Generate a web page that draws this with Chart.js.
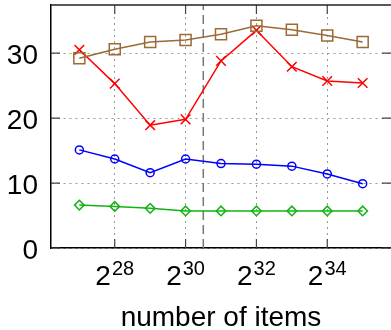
<!DOCTYPE html>
<html>
<head>
<meta charset="utf-8">
<script src="https://cdn.jsdelivr.net/npm/chart.js@4"></script>
<style>
  html, body { margin: 0; padding: 0; background: #fff; }
</style>
</head>
<body>
<canvas id="items-chart" width="391" height="330"></canvas>
<script>
// x values are powers of two, kept as exponents (2^27 .. 2^35)
const exponents = [27, 28, 29, 30, 31, 32, 33, 34, 35];
const brownValues = [29.2, 30.6, 31.7, 32.0, 32.9, 34.2, 33.6, 32.7, 31.7];
const redValues = [30.5, 25.3, 18.9, 19.8, 28.8, 33.5, 27.9, 25.7, 25.4];
const blueValues = [15.1, 13.7, 11.6, 13.7, 13.0, 12.9, 12.6, 11.4, 9.9];
const greenValues = [6.6, 6.4, 6.1, 5.7, 5.7, 5.7, 5.7, 5.7, 5.7];
const xTickExponents = [28, 30, 32, 34];
const yTicks = [0, 10, 20, 30];
const splitExponent = 30.5;
const xTitle = 'number of items';

const FONT = "'Liberation Sans', Arial, sans-serif";

const toPoints = vals => vals.map((v, i) => ({ x: exponents[i], y: v }));

const makeSet = (vals, color, style, radius) => ({
    data: toPoints(vals),
    borderColor: color,
    backgroundColor: color,
    borderWidth: 1.5,
    pointStyle: style,
    pointRadius: radius,
    pointBorderWidth: 1.5,
    pointBackgroundColor: 'rgba(0,0,0,0)',
    pointBorderColor: color,
    tension: 0
});

// dashed split line, inward tick marks, top border and all the text
const decorPlugin = {
    id: 'decor',
    beforeDatasetsDraw(chart) {
        const { ctx, chartArea: a, scales: { x } } = chart;
        const sx = x.getPixelForValue(splitExponent);
        ctx.save();
        ctx.strokeStyle = '#777';
        ctx.lineWidth = 1.5;
        ctx.setLineDash([9, 5]);
        ctx.beginPath();
        ctx.moveTo(sx, a.bottom);
        ctx.lineTo(sx, a.top);
        ctx.stroke();
        ctx.restore();
    },
    afterDraw(chart) {
        const { ctx, chartArea: a, scales: { x, y } } = chart;
        ctx.save();
        ctx.strokeStyle = '#444';
        ctx.lineWidth = 1.2;
        ctx.beginPath();
        yTicks.forEach(v => {
            const py = y.getPixelForValue(v);
            ctx.moveTo(a.left, py); ctx.lineTo(a.left + 9, py);
            ctx.moveTo(a.right, py); ctx.lineTo(a.right - 9, py);
        });
        xTickExponents.forEach(e => {
            const px = x.getPixelForValue(e);
            ctx.moveTo(px, a.bottom); ctx.lineTo(px, a.bottom - 9);
            ctx.moveTo(px, a.top); ctx.lineTo(px, a.top + 9);
        });
        ctx.stroke();

        // top border
        ctx.strokeStyle = '#222';
        ctx.lineWidth = 1.5;
        ctx.beginPath();
        ctx.moveTo(a.left, a.top);
        ctx.lineTo(a.right, a.top);
        ctx.stroke();

        ctx.fillStyle = '#000';
        // y labels
        ctx.font = '28px ' + FONT;
        ctx.textAlign = 'right';
        ctx.textBaseline = 'alphabetic';
        yTicks.forEach(v => {
            ctx.fillText(String(v), 38, y.getPixelForValue(v) + 11);
        });

        // x labels as 2 with a raised exponent
        ctx.textAlign = 'left';
        xTickExponents.forEach(e => {
            const px = x.getPixelForValue(e);
            ctx.font = '28px ' + FONT;
            const wBase = ctx.measureText('2').width;
            ctx.font = '20px ' + FONT;
            const wExp = ctx.measureText(String(e)).width;
            const start = px - (wBase + wExp + 1) / 2;
            ctx.font = '28px ' + FONT;
            ctx.fillText('2', start, 285);
            ctx.font = '20px ' + FONT;
            ctx.fillText(String(e), start + wBase + 1, 275);
        });

        // axis title
        ctx.font = '28px ' + FONT;
        ctx.textAlign = 'center';
        ctx.fillText(xTitle, (a.left + a.right) / 2, 326);
        ctx.restore();
    }
};

const config = {
    type: 'line',
    data: {
        datasets: [
            makeSet(greenValues, '#12b312', 'rectRot', 4.8),
            makeSet(blueValues, '#0000ff', 'circle', 4),
            makeSet(brownValues, '#9b6a36', 'rect', 7.8),
            makeSet(redValues, '#ff0000', 'crossRot', 6.8)
        ]
    },
    options: {
        responsive: false,
        animation: false,
        layout: { autoPadding: false, padding: { top: 5, right: 0, left: 0, bottom: 0 } },
        plugins: {
            legend: { display: false },
            tooltip: { enabled: false }
        },
        scales: {
            x: {
                type: 'linear',
                min: 26.2,
                max: 35.8,
                afterBuildTicks: scale => {
                    scale.ticks = xTickExponents.map(v => ({ value: v }));
                },
                afterFit: scale => { scale.height = 82; },
                ticks: { display: false },
                grid: { color: '#999', lineWidth: 1, drawTicks: false },
                border: { display: true, color: '#000', width: 1.5, dash: [2, 4] }
            },
            y: {
                min: 0,
                max: 37.4,
                afterBuildTicks: scale => {
                    scale.ticks = yTicks.map(v => ({ value: v }));
                },
                afterFit: scale => { scale.width = 51; },
                ticks: { display: false },
                grid: { color: '#999', lineWidth: 1, drawTicks: false },
                border: { display: true, color: '#000', width: 1.5, dash: [2, 4] }
            }
        }
    },
    plugins: [decorPlugin]
};

const ctx = document.getElementById('items-chart').getContext('2d');
new Chart(ctx, config);
</script>
</body>
</html>
